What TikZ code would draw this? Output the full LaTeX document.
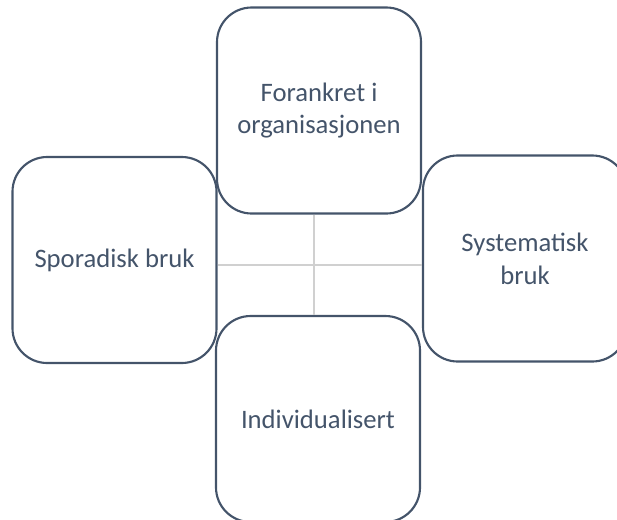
\documentclass[tikz,border=0pt]{standalone}
\usepackage{fontspec}
\setmainfont{Carlito}
\definecolor{boxline}{HTML}{44546A}
\definecolor{txt}{HTML}{44546A}
\definecolor{cross}{HTML}{D0D0D0}
\begin{document}
\begin{tikzpicture}[x=0.75pt,y=-0.75pt,
  quad/.style={draw=boxline,line width=1.6pt,rounded corners=26pt,
    minimum width=153pt,minimum height=154.5pt,align=center,
    text=txt,font=\fontsize{20}{24.5}\selectfont,inner sep=0pt},
  crossline/.style={draw=cross,line width=1.3pt}]
\useasboundingbox (0,0) rectangle (617,519);
\clip (0,0) rectangle (617,519);
\coordinate (c) at (314,265);
\node[quad] (top) at (319,110.5) {Forankret i\\organisasjonen};
\node[quad] (left) at (114.5,260) {Sporadisk bruk};
\node[quad] (right) at (525,258.5) {Systematisk\\bruk};
\node[quad] (bottom) at (318,419) {Individualisert};
\draw[crossline] (c |- top.south) -- (c |- bottom.north);
\draw[crossline] (c -| left.east) -- (c -| right.west);
\end{tikzpicture}
\end{document}
